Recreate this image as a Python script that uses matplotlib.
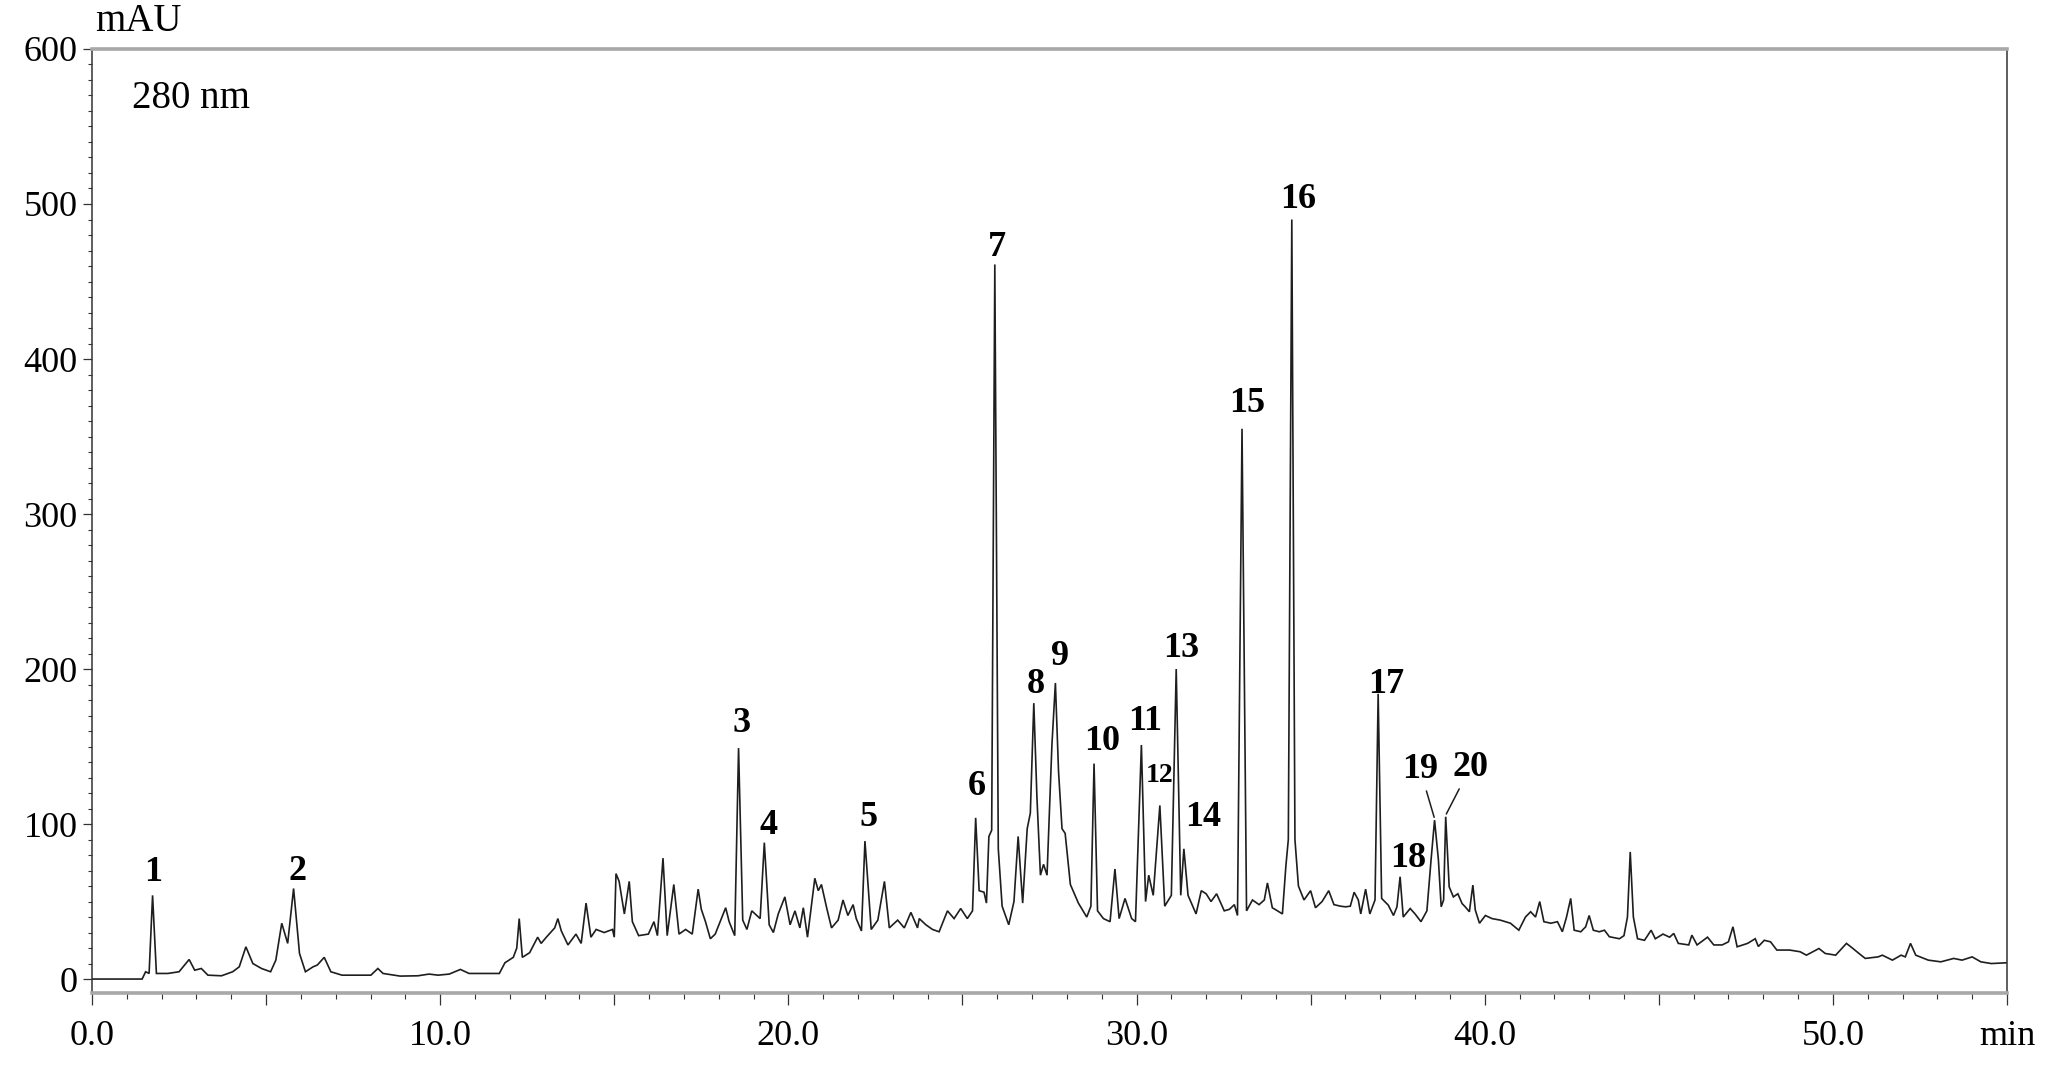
#!/usr/bin/env python3
import matplotlib
matplotlib.use("Agg")
import matplotlib.pyplot as plt
from matplotlib.ticker import MultipleLocator

# ─── data (280 nm) ───────────────────────────────────────────────
# retention time (min) / absorbance (mAU) along the trace
time_min = [
    0.0, 1.44, 1.54, 1.64, 1.74, 1.85, 2.18, 2.5, 2.79, 2.95, 3.14, 3.33, 3.72,
    4.04, 4.23, 4.42, 4.62, 4.87, 5.13, 5.28, 5.45, 5.62, 5.79, 5.96, 6.13,
    6.35, 6.47, 6.67, 6.86, 7.18, 7.56, 8.01, 8.21, 8.36, 8.85, 9.36, 9.68,
    9.94, 10.26, 10.58, 10.83, 11.28, 11.7,
    11.86, 12.1, 12.2, 12.27, 12.36, 12.57, 12.8, 12.9, 13.05, 13.29, 13.38,
    13.48, 13.67, 13.9, 14.05, 14.19, 14.33, 14.48, 14.71, 14.95, 15.0, 15.05,
    15.14, 15.29, 15.43, 15.52, 15.7, 15.98, 16.14, 16.24, 16.4, 16.52, 16.71,
    16.86, 17.05, 17.24, 17.41, 17.5, 17.62, 17.76, 17.9, 18.2, 18.3, 18.46,
    18.57, 18.69, 18.81, 18.95, 19.19, 19.31, 19.45, 19.57, 19.71, 19.9, 20.05,
    20.19, 20.33, 20.43, 20.55, 20.76, 20.86, 20.95, 21.1, 21.24, 21.43, 21.57,
    21.71, 21.86, 21.95, 22.1, 22.2, 22.38, 22.57, 22.76, 22.9, 23.14, 23.33,
    23.52, 23.71,
    23.76, 23.95, 24.14, 24.33, 24.57, 24.76, 24.95, 25.14, 25.29, 25.38, 25.48,
    25.62, 25.69, 25.76, 25.84, 25.93, 26.03, 26.14, 26.33, 26.48, 26.6, 26.73,
    26.86, 26.95, 27.05, 27.14, 27.24, 27.33, 27.43, 27.57, 27.67, 27.76, 27.86,
    27.95, 28.1, 28.33, 28.57, 28.69, 28.78, 28.88, 29.05, 29.24, 29.38, 29.5,
    29.67, 29.86, 29.97, 30.14, 30.26, 30.35, 30.48, 30.67, 30.81, 31.0, 31.14,
    31.27, 31.36, 31.48,
    31.71, 31.86, 32.0, 32.14, 32.3, 32.52, 32.67, 32.81, 32.9, 33.03, 33.16,
    33.33, 33.52, 33.67, 33.76, 33.9, 34.05, 34.19, 34.29, 34.36, 34.46, 34.55,
    34.65, 34.81, 35.0, 35.14, 35.33, 35.52, 35.67, 35.86,
    36.0, 36.14, 36.25, 36.37, 36.44, 36.58, 36.7, 36.85, 36.94, 37.04, 37.23,
    37.38, 37.48, 37.57, 37.66, 37.86, 38.0, 38.17, 38.34, 38.46, 38.56, 38.67,
    38.75, 38.82, 38.88, 38.98, 39.1, 39.23, 39.35, 39.44, 39.56, 39.66, 39.73,
    39.85, 40.02, 40.21, 40.45, 40.74, 40.98, 41.17, 41.32, 41.46, 41.58, 41.7,
    41.9, 42.09, 42.23, 42.35, 42.47, 42.57, 42.76, 42.9, 43.0, 43.12, 43.29,
    43.44, 43.58, 43.87, 44.0, 44.1, 44.18, 44.27, 44.39, 44.59, 44.78, 44.9,
    45.12, 45.31, 45.43, 45.56, 45.86, 45.95, 46.1, 46.4, 46.58, 46.82, 47.0,
    47.13, 47.25, 47.55, 47.77, 47.86, 48.03, 48.21, 48.39, 48.76, 49.06, 49.24,
    49.6, 49.78, 50.08, 50.39, 50.56, 50.75, 50.93, 51.3, 51.42, 51.71, 51.96,
    52.08, 52.23, 52.38, 52.74, 53.1, 53.47, 53.71, 54.0, 54.25, 54.55, 55.0,
]
signal_mau = [
    0.0, 0.0, 4.7, 3.6, 54.0, 3.6, 3.6, 4.7, 12.6, 5.7, 6.8, 2.5, 2.1,
    4.7, 7.9, 20.8, 10.0, 6.8, 4.7, 12.2, 36.0, 23.0, 58.4, 16.5, 4.7,
    7.9, 9.0, 14.0, 4.7, 2.5, 2.5, 2.5, 6.8, 3.6, 1.9, 2.1, 3.2,
    2.5, 3.2, 6.2, 3.6, 3.6, 3.6,
    10.5, 14.0, 20.0, 39.0, 14.0, 17.0, 27.0, 23.0, 27.0, 33.0, 39.0,
    31.0, 22.0, 29.0, 23.0, 49.0, 27.0, 32.0, 30.0, 32.0, 27.0, 68.0,
    63.0, 42.0, 63.0, 37.0, 28.0, 29.0, 37.0, 28.0, 78.0, 28.0, 61.0,
    29.0, 32.0, 29.0, 58.0, 45.0, 37.0, 26.0, 29.0, 46.0, 37.0, 28.0,
    149.0, 38.0, 32.0, 44.0, 39.0, 88.0, 35.0, 30.0, 42.0, 53.0, 35.0,
    44.0, 33.0, 46.0, 27.0, 65.0, 57.0, 61.0, 46.0, 33.0, 38.0, 51.0,
    41.0, 48.0, 39.0, 31.0, 89.0, 32.0, 38.0, 63.0, 33.0, 38.0, 33.0,
    43.0, 33.0,
    39.0, 35.0, 32.0, 30.5, 44.0, 39.0, 45.5, 39.0, 44.0, 104.0, 57.0,
    56.0, 49.0, 92.0, 96.0, 461.0, 84.0, 47.0, 35.0, 50.0, 92.0, 49.0,
    97.0, 107.0, 178.0, 117.0, 67.0, 74.0, 67.0, 151.0, 191.0, 134.0, 97.0,
    94.0, 61.0, 49.0, 40.0, 47.0, 139.0, 44.0, 39.0, 37.0, 71.0, 39.0,
    52.0, 39.0, 37.0, 151.0, 50.0, 67.0, 54.0, 112.0, 47.0, 54.0, 200.0,
    54.0, 84.0, 54.0,
    42.0, 57.0, 55.0, 50.0, 55.0, 44.0, 45.0, 48.0, 41.0, 355.0, 44.0,
    51.0, 48.0, 51.0, 62.0, 46.0, 44.0, 42.0, 73.0, 90.0, 490.0, 90.0,
    60.0, 51.0, 57.0, 46.0, 50.0, 57.0, 48.0, 47.0,
    46.6, 47.0, 56.0, 51.0, 42.0, 58.0, 42.0, 51.0, 184.0, 52.0, 47.7,
    41.0, 46.6, 66.0, 40.0, 45.5, 42.0, 37.0, 44.0, 77.0, 102.5, 77.0,
    46.6, 51.0, 104.7, 59.5, 53.0, 55.0, 48.7, 46.6, 43.4, 60.6, 44.5,
    36.0, 41.0, 39.0, 38.0, 36.0, 31.5, 40.0, 43.4, 40.0, 50.0, 37.0,
    36.0, 37.0, 30.5, 40.0, 52.0, 31.5, 30.5, 33.7, 41.0, 31.5, 30.5,
    31.5, 27.3, 26.0, 28.0, 40.0, 82.0, 40.0, 26.0, 25.0, 31.5, 26.0,
    29.0, 27.0, 29.4, 23.0, 22.0, 28.3, 22.0, 27.0, 22.0, 22.0, 24.0,
    33.7, 20.8, 23.0, 26.0, 21.0, 25.0, 24.0, 18.7, 18.7, 17.6, 15.4,
    19.7, 16.5, 15.4, 23.0, 20.0, 16.5, 13.3, 14.3, 15.4, 12.2, 15.4,
    14.3, 23.0, 15.4, 12.2, 11.1, 13.3, 12.2, 14.3, 11.1, 10.0, 10.5,
]

# numbered peaks: label text and apex (retention time, mAU)
peak_names = ["1", "2", "3", "4", "5", "6", "7", "8", "9", "10",
              "11", "12", "13", "14", "15", "16", "17", "18", "19", "20"]
peak_times = [1.74, 5.79, 18.57, 19.31, 22.2, 25.38, 25.93, 27.05, 27.67, 28.78,
              30.14, 30.67, 31.14, 31.36, 33.03, 34.46, 36.94, 37.57, 38.56, 38.88]
peak_heights = [54, 58.4, 149, 88, 89, 104, 461, 178, 191, 139,
                151, 112, 200, 84, 355, 490, 184, 66, 102.5, 104.7]

x_tick_vals = [0, 5, 10, 15, 20, 25, 30, 35, 40, 45, 50, 55]
x_tick_text = ["0.0", "", "10.0", "", "20.0", "", "30.0", "", "40.0", "", "50.0", "min"]
y_tick_vals = [0, 100, 200, 300, 400, 500, 600]

# label placement (shift from apex, in min / mAU) -- layout only
LABEL_SHIFT = {
    "1": (0.03, 15), "2": (0.1, 11), "3": (0.1, 16), "4": (0.12, 11),
    "5": (0.1, 15), "6": (0.02, 20), "7": (0.07, 11), "8": (0.06, 12),
    "9": (0.13, 17), "10": (0.22, 14), "11": (0.12, 15), "12": (0.0, 19),
    "13": (0.15, 13), "14": (0.54, 20), "15": (0.16, 16), "16": (0.19, 13),
    "17": (0.24, 6), "18": (0.23, 12), "19": (-0.42, 33), "20": (0.71, 32),
}
LEADER = {"19", "20"}

OUT = "out.png"
SERIF = ["Liberation Serif", "DejaVu Serif"]
plt.rcParams["font.family"] = SERIF

FRAME_GREY = "#a8a8a8"
INK = "#1e1e1e"


def main():
    fig, ax = plt.subplots(figsize=(20.58, 10.72), dpi=100)
    fig.subplots_adjust(left=0.0447, right=0.9752, bottom=0.0737, top=0.9543)

    ax.plot(time_min, signal_mau, color=INK, lw=1.2, solid_joinstyle="miter")

    ax.set_xlim(0, 55)
    ax.set_ylim(-9, 600)

    # axes frame: grey top/bottom, dark left/right
    for side in ("top", "bottom"):
        ax.spines[side].set_color(FRAME_GREY)
        ax.spines[side].set_linewidth(2.6)
    for side in ("left", "right"):
        ax.spines[side].set_color("#333333")
        ax.spines[side].set_linewidth(1.1)

    ax.set_xticks(x_tick_vals)
    ax.set_xticklabels(x_tick_text)
    ax.xaxis.set_minor_locator(MultipleLocator(1))
    ax.set_yticks(y_tick_vals)
    ax.yaxis.set_minor_locator(MultipleLocator(10))

    ax.tick_params(axis="x", which="major", direction="out", length=8.5, width=0.9,
                   color="#333333", labelsize=26, pad=11, top=False)
    ax.tick_params(axis="x", which="minor", direction="out", length=4.3, width=0.8,
                   color="#333333", top=False)
    ax.tick_params(axis="y", which="major", direction="out", length=6.5, width=0.9,
                   color="#333333", labelsize=26, pad=4, right=False)
    ax.tick_params(axis="y", which="minor", direction="out", length=3.2, width=0.8,
                   color="#333333", right=False)

    ax.text(0.0016, 1.010, "mAU", transform=ax.transAxes, ha="left", va="bottom",
            fontsize=28, color="black")
    ax.text(0.0209, 0.9375, "280 nm", transform=ax.transAxes, ha="left",
            va="baseline", fontsize=28, color="black")

    # peak numbers
    for name, t, h in zip(peak_names, peak_times, peak_heights):
        dx, dy = LABEL_SHIFT[name]
        size = 20 if name == "12" else 26
        if name in LEADER:
            ax.annotate(name, xy=(t, h + 1), xytext=(t + dx, h + dy),
                        ha="center", va="center", fontsize=size, fontweight="bold",
                        arrowprops=dict(arrowstyle="-", color=INK, lw=1.1,
                                        shrinkA=2, shrinkB=1))
        else:
            ax.text(t + dx, h + dy, name, ha="center", va="center",
                    fontsize=size, fontweight="bold")

    fig.savefig(OUT, dpi=100)
    plt.close(fig)


if __name__ == "__main__":
    main()
